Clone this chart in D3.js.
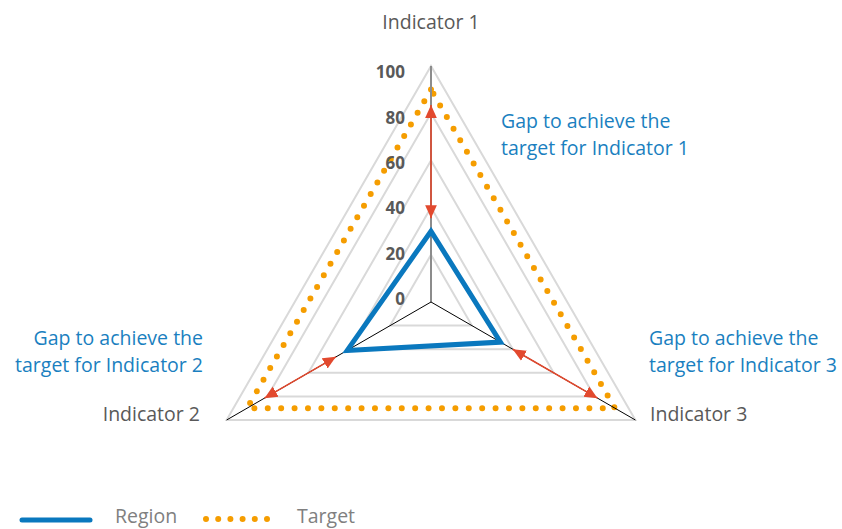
<!DOCTYPE html>
<html><head><meta charset="utf-8">
<script src="https://cdn.jsdelivr.net/npm/d3@7"></script>
<style>body{margin:0;background:#fff}svg{display:block}text{font-family:"Open Sans",Lato,sans-serif}</style>
</head><body><svg id="c" width="842" height="529"></svg>
<script>
const indicators = ["Indicator 1","Indicator 2","Indicator 3"];
const region = [30, 41, 34];
const target = [90, 90, 90];
const gapFrom = [35.5, 46.5, 40];
const gapTo = [83.5, 81.5, 81.5];
const ticks = [0,20,40,60,80,100];
const gapLabels = [["Gap to achieve the","target for Indicator 1"],["Gap to achieve the","target for Indicator 2"],["Gap to achieve the","target for Indicator 3"]];

const svg = d3.select("#c");
const cx = 431, cy = 302, R = 236;
const r = d3.scaleLinear().domain([0,100]).range([0,R]);
// Indicator 1 top, Indicator 2 bottom-left, Indicator 3 bottom-right
const angles = [-Math.PI/2, Math.PI*5/6, Math.PI/6];
const pt = (i,v) => [cx + r(v)*Math.cos(angles[i]), cy + r(v)*Math.sin(angles[i])];
const line = d3.line();

const gridCol = "#d9d9d9";
ticks.filter(t=>t>0).forEach(t=>{
  svg.append("path").attr("d", line([0,1,2].map(i=>pt(i,t)))+"Z")
    .attr("fill","none").attr("stroke",gridCol).attr("stroke-width",2);
});

// target
svg.append("path").attr("d", line(target.map((v,i)=>pt(i,v)))+"Z")
  .attr("fill","none").attr("stroke","#f59d00").attr("stroke-width",6)
  .attr("stroke-linecap","round").attr("stroke-dasharray","0,13.4");

// axes
[0,1,2].forEach(i=>{
  const [x2,y2]=pt(i,100);
  svg.append("line").attr("x1",cx).attr("y1",cy).attr("x2",x2).attr("y2",y2)
    .attr("stroke", i===0?"#8c8c8c":"#000").attr("stroke-width", i===0?2:1);
});

// arrows
const defs = svg.append("defs");
defs.append("marker").attr("id","ah").attr("viewBox","0 0 10 10").attr("refX",10).attr("refY",5)
  .attr("markerWidth",13).attr("markerHeight",13).attr("markerUnits","userSpaceOnUse")
  .attr("orient","auto-start-reverse")
  .append("path").attr("d","M0,0.5L10,5L0,9.5Z").attr("fill","#e2492e");
[0,1,2].forEach(i=>{
  const a=pt(i,gapFrom[i]), b=pt(i,gapTo[i]);
  svg.append("line").attr("x1",a[0]).attr("y1",a[1]).attr("x2",b[0]).attr("y2",b[1])
    .attr("stroke","#e2492e").attr("stroke-width",1.6)
    .attr("marker-start","url(#ah)").attr("marker-end","url(#ah)");
});

// region
svg.append("path").attr("d", line(region.map((v,i)=>pt(i,v)))+"Z")
  .attr("fill","none").attr("stroke","#0a78be").attr("stroke-width",5).attr("stroke-linejoin","miter");

// tick labels
const ly = d3.scaleLinear().domain([0,100]).range([299,72]);
svg.selectAll(".tk").data(ticks).join("text").attr("class","tk")
  .attr("x",405).attr("y",d=>ly(d)).attr("dy","0.36em").attr("text-anchor","end")
  .attr("font-size",17).attr("font-weight","bold").attr("fill","#595959").text(d=>d);

// indicator labels
const txtCol="#595959";
const fs = 19.5;
svg.append("text").attr("x",cx).attr("y",29).attr("text-anchor","middle").attr("font-size",fs).attr("fill",txtCol).text(indicators[0]);
svg.append("text").attr("x",200).attr("y",421).attr("text-anchor","end").attr("font-size",fs).attr("fill",txtCol).text(indicators[1]);
svg.append("text").attr("x",650).attr("y",421).attr("text-anchor","start").attr("font-size",fs).attr("fill",txtCol).text(indicators[2]);

// gap labels
const blue="#1a7fc0";
const gapPos=[{x:501,y:128,a:"start"},{x:203,y:345,a:"end"},{x:649,y:345,a:"start"}];
gapLabels.forEach((ls,i)=>{
  const t=svg.append("text").attr("x",gapPos[i].x).attr("y",gapPos[i].y).attr("text-anchor",gapPos[i].a)
    .attr("font-size",fs).attr("fill",blue);
  ls.forEach((s,k)=>t.append("tspan").attr("x",gapPos[i].x).attr("dy",k?27:0).text(s));
});

// legend
svg.append("line").attr("x1",22).attr("x2",90).attr("y1",520).attr("y2",520)
  .attr("stroke","#0a78be").attr("stroke-width",5).attr("stroke-linecap","round");
svg.append("text").attr("x",115).attr("y",523).attr("font-size",19.5).attr("fill","#808080").text("Region");
svg.append("line").attr("x1",206).attr("x2",267).attr("y1",519).attr("y2",519)
  .attr("stroke","#f59d00").attr("stroke-width",6).attr("stroke-linecap","round").attr("stroke-dasharray","0,12.2");
svg.append("text").attr("x",297).attr("y",523).attr("font-size",19.5).attr("fill","#808080").text("Target");
</script></body></html>
